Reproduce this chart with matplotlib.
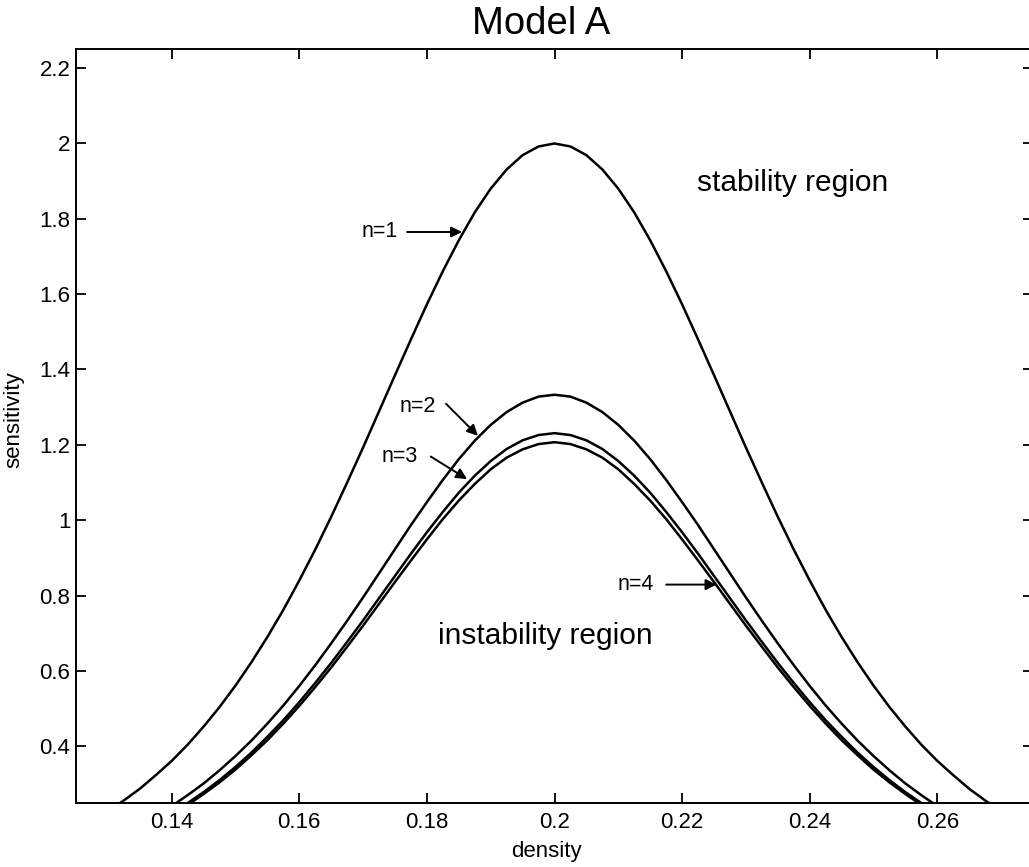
import matplotlib
matplotlib.use("Agg")
import matplotlib.pyplot as plt

plt.rcParams['font.family'] = ['Liberation Sans', 'DejaVu Sans']

density = [0.125, 0.1275, 0.13, 0.1325, 0.135, 0.1375, 0.14, 0.1425, 0.145, 0.1475,
           0.15, 0.1525, 0.155, 0.1575, 0.16, 0.1625, 0.165, 0.1675, 0.17, 0.1725,
           0.175, 0.1775, 0.18, 0.1825, 0.185, 0.1875, 0.19, 0.1925, 0.195, 0.1975,
           0.2,
           0.2025, 0.205, 0.2075, 0.21, 0.2125, 0.215, 0.2175, 0.22, 0.2225, 0.225,
           0.2275, 0.23, 0.2325, 0.235, 0.2375, 0.24, 0.2425, 0.245, 0.2475, 0.25,
           0.2525, 0.255, 0.2575, 0.26, 0.2625, 0.265, 0.2675, 0.27, 0.2725, 0.275]

sens_n1 = [0.180, 0.202, 0.228, 0.256, 0.287, 0.323, 0.361, 0.404, 0.452, 0.504,
           0.561, 0.623, 0.690, 0.762, 0.840, 0.922, 1.009, 1.100, 1.193, 1.289,
           1.385, 1.480, 1.573, 1.661, 1.743, 1.817, 1.880, 1.931, 1.969, 1.992,
           2.000,
           1.992, 1.969, 1.931, 1.880, 1.817, 1.743, 1.661, 1.573, 1.480, 1.385,
           1.289, 1.193, 1.100, 1.009, 0.922, 0.840, 0.762, 0.690, 0.623, 0.561,
           0.504, 0.452, 0.404, 0.361, 0.323, 0.287, 0.256, 0.228, 0.202, 0.180]

sens_n2 = [0.120, 0.135, 0.152, 0.171, 0.192, 0.215, 0.241, 0.270, 0.301, 0.336,
           0.374, 0.415, 0.460, 0.508, 0.560, 0.615, 0.673, 0.733, 0.795, 0.859,
           0.923, 0.987, 1.048, 1.107, 1.162, 1.211, 1.253, 1.287, 1.312, 1.328,
           1.333,
           1.328, 1.312, 1.287, 1.253, 1.211, 1.162, 1.107, 1.048, 0.987, 0.923,
           0.859, 0.795, 0.733, 0.673, 0.615, 0.560, 0.508, 0.460, 0.415, 0.374,
           0.336, 0.301, 0.270, 0.241, 0.215, 0.192, 0.171, 0.152, 0.135, 0.120]

sens_n3 = [0.111, 0.124, 0.140, 0.158, 0.177, 0.199, 0.222, 0.249, 0.278, 0.310,
           0.345, 0.383, 0.425, 0.469, 0.517, 0.568, 0.621, 0.677, 0.734, 0.793,
           0.852, 0.911, 0.968, 1.022, 1.073, 1.118, 1.157, 1.189, 1.212, 1.226,
           1.231,
           1.226, 1.212, 1.189, 1.157, 1.118, 1.073, 1.022, 0.968, 0.911, 0.852,
           0.793, 0.734, 0.677, 0.621, 0.568, 0.517, 0.469, 0.425, 0.383, 0.345,
           0.310, 0.278, 0.249, 0.222, 0.199, 0.177, 0.158, 0.140, 0.124, 0.111]

sens_n4 = [0.108, 0.122, 0.137, 0.154, 0.173, 0.195, 0.218, 0.244, 0.273, 0.304,
           0.338, 0.376, 0.416, 0.460, 0.507, 0.557, 0.609, 0.664, 0.720, 0.778,
           0.836, 0.893, 0.949, 1.003, 1.052, 1.096, 1.135, 1.166, 1.188, 1.202,
           1.207,
           1.202, 1.188, 1.166, 1.135, 1.096, 1.052, 1.003, 0.949, 0.893, 0.836,
           0.778, 0.720, 0.664, 0.609, 0.557, 0.507, 0.460, 0.416, 0.376, 0.338,
           0.304, 0.273, 0.244, 0.218, 0.195, 0.173, 0.154, 0.137, 0.122, 0.108]

xticks = [0.14, 0.16, 0.18, 0.2, 0.22, 0.24, 0.26]
xtick_labels = ["0.14", "0.16", "0.18", "0.2", "0.22", "0.24", "0.26"]
yticks = [0.4, 0.6, 0.8, 1.0, 1.2, 1.4, 1.6, 1.8, 2.0, 2.2]
ytick_labels = ["0.4", "0.6", "0.8", "1", "1.2", "1.4", "1.6", "1.8", "2", "2.2"]

# labels: (text, text position, arrow tail, arrow tip)
curve_labels = [
    ("n=1", (0.1726, 1.765), (0.1769, 1.765), (0.1855, 1.765)),
    ("n=2", (0.1785, 1.301), (0.1830, 1.309), (0.1880, 1.224)),
    ("n=3", (0.1757, 1.169), (0.1806, 1.169), (0.1863, 1.109)),
    ("n=4", (0.2127, 0.829), (0.2175, 0.829), (0.2254, 0.829)),
]

W, H = 1029, 867
fig = plt.figure(figsize=(W / 100, H / 100), dpi=100)
left, right, top, bottom = 76, 1033, 49.3, 802.7
ax = fig.add_axes([left / W, 1 - bottom / H, (right - left) / W, (bottom - top) / H])

for ys in (sens_n1, sens_n2, sens_n3, sens_n4):
    ax.plot(density, ys, color='black', lw=1.8, solid_capstyle='butt')

ax.set_xlim(0.125, 0.275)
ax.set_ylim(0.25, 2.25)
ax.set_xticks(xticks)
ax.set_xticklabels(xtick_labels)
ax.set_yticks(yticks)
ax.set_yticklabels(ytick_labels)
ax.tick_params(direction='in', length=7, width=1.3, top=True, right=True,
               labelsize=16)
ax.tick_params(axis='x', pad=7)
ax.tick_params(axis='y', pad=4)
for s in ax.spines.values():
    s.set_linewidth(1.4)

for txt, tpos, tail, tip in curve_labels:
    ax.text(tpos[0], tpos[1], txt, ha='center', va='center', fontsize=15.5)
    ax.annotate('', xy=tip, xytext=tail,
                arrowprops=dict(arrowstyle='-|>', color='black', lw=1.4,
                                mutation_scale=16, shrinkA=0, shrinkB=0))

ax.text(0.2373, 1.8945, "stability region", ha='center', va='center', fontsize=21.5)
ax.text(0.1986, 0.6935, "instability region", ha='center', va='center', fontsize=21.5)

fig.text(541 / W, 1 - 24 / H, "Model A", ha='center', va='center', fontsize=27.5)
fig.text(546 / W, 1 - 852 / H, "density", ha='center', va='center', fontsize=16)
fig.text(14 / W, 1 - 420 / H, "sensitivity", ha='center', va='center',
         fontsize=16, rotation=90)

fig.savefig("out.png", dpi=100, facecolor='white')
